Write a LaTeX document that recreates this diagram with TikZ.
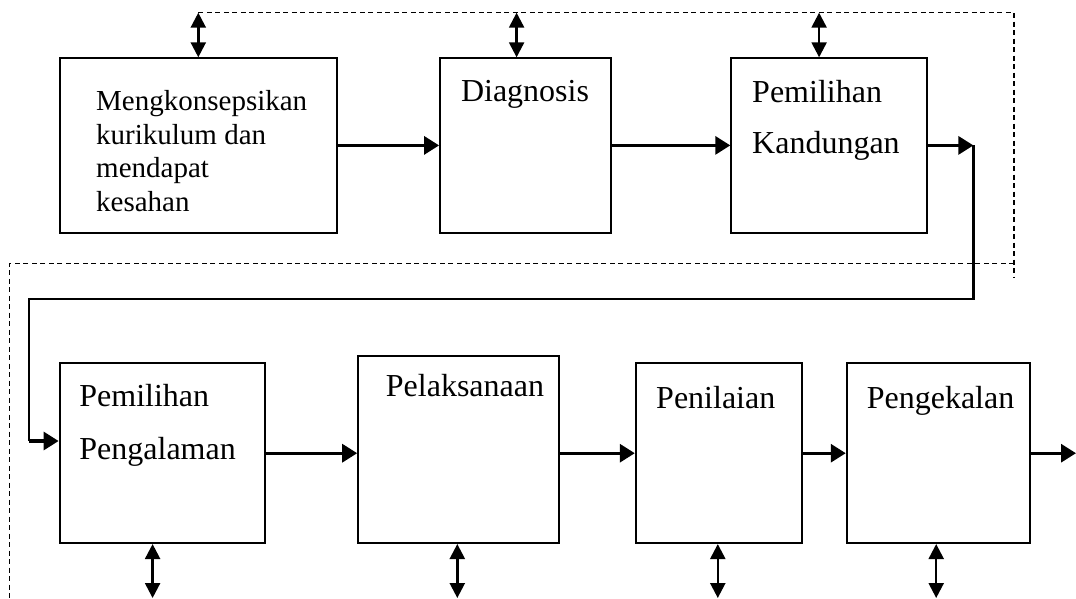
\documentclass[tikz,border=0pt]{standalone}
\usepackage{fontspec}
\setmainfont{Liberation Serif}
\usetikzlibrary{arrows.meta,calc}
\tikzset{
  blk/.style={draw, line width=2pt, inner sep=0pt},
  lbl/.style={inner sep=0pt, align=left, font=\fontsize{32}{36.8}\selectfont},
  flow/.style={-{Triangle[length=15pt,width=18pt]}, line width=3.1pt},
  link/.style={line width=2.2pt},
  dbl/.style={{Triangle[length=15pt,width=15pt]}-{Triangle[length=15pt,width=15pt]}, line width=2.4pt},
  feedback/.style={dash pattern=on 5pt off 3.5pt, line width=1.5pt},
}

\begin{document}
\begin{tikzpicture}[x=1pt,y=-1pt]
			\useasboundingbox (0,0) rectangle (1076,598);
			\node[blk, minimum width=277.8pt, minimum height=174.2pt] (b1) at (198.4,145.4) {};
			\node[blk, minimum width=170.6pt, minimum height=174.2pt] (b2) at (525.4,145.4) {};
			\node[blk, minimum width=195.6pt, minimum height=174.2pt] (b3) at (829.1,145.4) {};
			\node[blk, minimum width=205.2pt, minimum height=179.7pt] (b4) at (162.2,453.2) {};
			\node[blk, minimum width=201.2pt, minimum height=187pt] (b5) at (458.8,449.5) {};
			\node[blk, minimum width=165.8pt, minimum height=179.7pt] (b6) at (718.7,453.2) {};
			\node[blk, minimum width=183.7pt, minimum height=179.7pt] (b7) at (938.6,453.2) {};
			\node[lbl, font=\fontsize{29}{33.5}\selectfont, anchor=north west] (t1) at (96,90.2) {Mengkonsepsikan\\kurikulum dan\\mendapat\\kesahan};
			\node[lbl, anchor=base west] (t2) at (460.8,101.7) {Diagnosis};
			\node[lbl, anchor=north west] (t3) at (752,79.8) {Pemilihan\\[14.8pt]Kandungan};
			\node[lbl, anchor=north west] (t4) at (79.2,384.1) {Pemilihan\\[16.2pt]Pengalaman};
			\node[lbl, anchor=base west] (t5) at (385.7,396.7) {Pelaksanaan};
			\node[lbl, anchor=base west] (t6) at (656,408) {Penilaian};
			\node[lbl, anchor=base west] (t7) at (866.6,408) {Pengekalan};
			\coordinate (turn1) at (973.4,145.4);
			\coordinate (turn2) at (973.4,299);
			\coordinate (turn3) at (28.8,299);
			\coordinate (turn4) at (28.8,441);
			\coordinate (exit) at (1076,453.2);
			\draw[flow] (b1.east) -- (b2.west);
			\draw[flow] (b2.east) -- (b3.west);
			\draw[flow] (b3.east) -- (turn1);
			\draw[link] (turn1) -- (turn2) -- (turn3) -- (turn4);
			\draw[flow] (turn4) -- (turn4 -| b4.west);
			\draw[flow] (b4.east) -- (b4.east -| b5.west);
			\draw[flow] (b5.east |- b6.west) -- (b6.west);
			\draw[flow] (b6.east) -- (b7.west);
			\draw[flow] (b7.east) -- (exit);
			\foreach \b/\x in {b1/198.3,b2/516.6,b3/819.1}{
				\coordinate (u\b) at (\x,12.7);
				\draw[dbl] (u\b) -- (u\b |- \b.north);
			}
			\foreach \b/\x in {b4/152.6,b5/457.3,b6/717.8,b7/936.2}{
				\coordinate (d\b) at (\x,598);
				\draw[dbl] (d\b |- \b.south) -- (d\b);
			}
			\coordinate (fr1) at (1014,12.7);
			\coordinate (fr2) at (1014,278.3);
			\coordinate (fl1) at (1014,263.3);
			\coordinate (fl2) at (9.3,263.3);
			\coordinate (fl3) at (9.3,598);
			\draw[feedback] (ub1) -- (fr1) -- (fr2);
			\draw[feedback] (fl1) -- (fl2) -- (fl3);
\end{tikzpicture}
\end{document}
